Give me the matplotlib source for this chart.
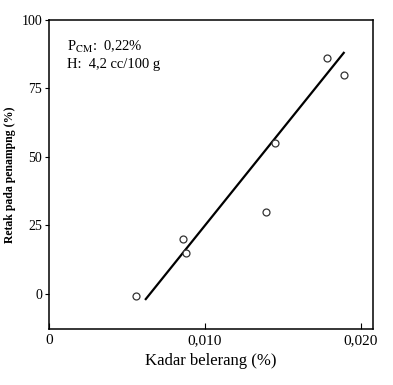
import matplotlib
matplotlib.use('Agg')
import matplotlib.pyplot as plt

plt.rcParams['font.family'] = ['Liberation Serif', 'DejaVu Serif']
plt.rcParams['mathtext.fontset'] = 'stix'

# sulfur content (%) vs cracking ratio (%)
sulfur = [0.0056, 0.0086, 0.0088, 0.0139, 0.0145, 0.0178, 0.0189]
crack = [-1, 20, 15, 30, 55, 86, 80]

# fitted trend line end points
fit_x = [0.0062, 0.0189]
fit_y = [-2, 88]

xticks = [0, 0.010, 0.020]
xlabels = ['0', '0,010', '0,020']
yticks = [0, 25, 50, 75, 100]

fig = plt.figure(figsize=(3.93, 3.85), dpi=100)
ax = fig.add_axes([0.125, 0.145, 0.825, 0.803])

ax.plot(fit_x, fit_y, color='black', lw=1.6)
ax.plot(sulfur, crack, 'o', mfc='white', mec='#333333', ms=5, mew=0.9)

ax.set_xlim(0, 0.0208)
ax.set_ylim(-13, 100)
ax.set_xticks(xticks)
ax.set_xticklabels(xlabels, fontsize=11)
ax.set_yticks(yticks)
ax.set_yticklabels([str(v) for v in yticks], fontsize=10)
ax.tick_params(axis='x', direction='in', length=4, width=0.8)
ax.tick_params(axis='y', direction='out', length=3, width=0.8, pad=2)
for s in ax.spines.values():
    s.set_linewidth(1.1)

ax.set_xlabel('Kadar belerang (%)', fontsize=12, labelpad=4)
ax.set_ylabel('Retak pada penampng (%)', fontsize=8.5, fontweight='bold', labelpad=4)

ax.text(0.055, 0.90, 'P$_{\\mathrm{CM}}$:  0,22%', transform=ax.transAxes, fontsize=10.5)
ax.text(0.055, 0.845, 'H:  4,2 cc/100 g', transform=ax.transAxes, fontsize=10.5)

fig.savefig('out.png', dpi=100)
